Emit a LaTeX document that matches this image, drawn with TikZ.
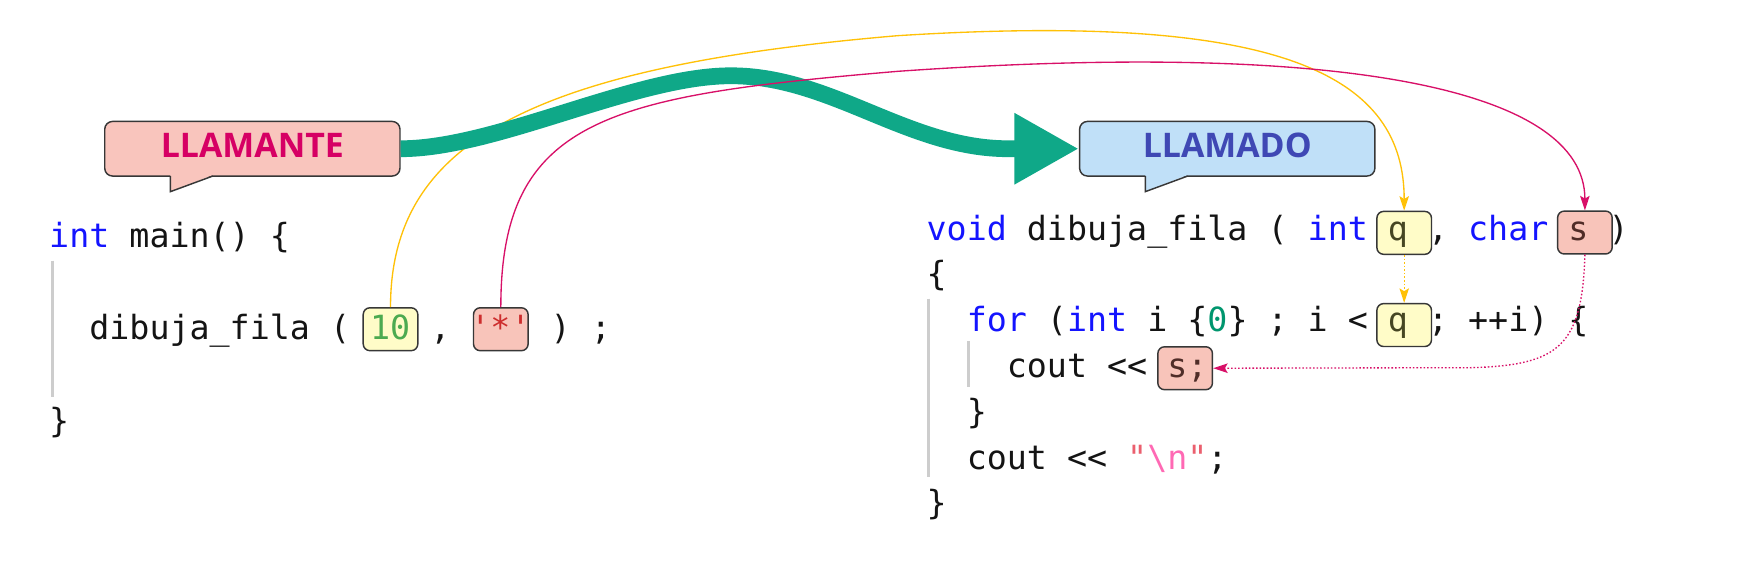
\documentclass[tikz,border=0pt]{standalone}
\usepackage{fontspec}
\setmonofont{DejaVu Sans Mono}
\newfontfamily\calloutfont{Open Sans}
\usetikzlibrary{arrows.meta}
\definecolor{kwblue}{RGB}{20,20,255}
\definecolor{txt}{RGB}{20,20,20}
\definecolor{numgreen}{RGB}{76,170,80}
\definecolor{zerog}{RGB}{0,150,110}
\definecolor{chred}{RGB}{205,45,45}
\definecolor{quotec}{RGB}{235,95,110}
\definecolor{escc}{RGB}{255,105,180}
\definecolor{qc}{RGB}{70,70,35}
\definecolor{sc}{RGB}{80,45,40}
\definecolor{boxyellow}{RGB}{255,252,200}
\definecolor{boxpink}{RGB}{248,196,186}
\definecolor{calpink}{RGB}{249,197,189}
\definecolor{calblue}{RGB}{192,224,248}
\definecolor{calred}{RGB}{214,0,100}
\definecolor{calindigo}{RGB}{63,72,180}
\definecolor{flowgreen}{RGB}{15,168,136}
\definecolor{lineyellow}{RGB}{255,193,7}
\definecolor{linemag}{RGB}{216,16,104}
\definecolor{bargray}{RGB}{205,205,205}
\definecolor{edgegray}{RGB}{55,55,55}
\newcommand{\kwd}[1]{\textcolor{kwblue}{#1}}
\begin{document}
\begin{tikzpicture}[x=1pt,y=-1pt,
  codeline/.style={anchor=base west, inner sep=0pt, font=\fontsize{29.9}{36}\selectfont\ttfamily, text=txt},
  argbox/.style={draw=edgegray, line width=1.3pt, rounded corners=6pt, minimum width=49pt, minimum height=38.5pt, inner sep=0pt},
  ybox/.style={argbox, fill=boxyellow},
  pbox/.style={argbox, fill=boxpink},
  bubble/.style={draw=edgegray, line width=1.3pt, rounded corners=7pt, minimum width=265pt, minimum height=49pt, inner sep=0pt},
  bubbletext/.style={anchor=base, inner sep=0pt, font=\calloutfont\bfseries\fontsize{30.4}{35}\selectfont},
  tailline/.style={draw=edgegray, line width=1.3pt, line join=miter},
  guide/.style={draw=bargray, line width=2.5pt},
  smallhead/.style={-{Stealth[length=13pt,width=8.5pt,inset=2.5pt]}},
  yline/.style={draw=lineyellow, line width=1.2pt, smallhead},
  mline/.style={draw=linemag, line width=1.2pt, smallhead},
  dotline/.style={dash pattern=on 1.4pt off 1.8pt},
  callarrow/.style={draw=flowgreen, line width=15pt, -{Triangle[length=58pt,width=60pt]}}
]
\useasboundingbox[fill=white] (0,0) rectangle (1568,513.4);

% callouts
\node[bubble, fill=calpink] (llamante) at (226.5,133.5) {};
\fill[calpink] (153,156.5) -- (153,172) -- (192.5,156.5) -- cycle;
\draw[tailline] (153,158) -- (153,172) -- (191,158);
\node[bubbletext, text=calred] (t1) at (226.5,141.2) {LLAMANTE};

\node[bubble, fill=calblue] (llamado) at (1101.5,133.5) {};
\fill[calblue] (1028,156.5) -- (1028,172) -- (1067.5,156.5) -- cycle;
\draw[tailline] (1028,158) -- (1028,172) -- (1066,158);
\node[bubbletext, text=calindigo] (t2) at (1101.5,141.2) {LLAMADO};

% indentation guides
\draw[guide] (47,234) -- (47,356);
\draw[guide] (833.3,268) -- (833.3,428);
\draw[guide] (869,306.5) -- (869,347.6);

% argument boxes
\node[ybox] (b10) at (350.5,295.5) {};
\node[pbox] (bstar) at (449.5,295.5) {};
\node[ybox] (q1) at (1260.3,209) {};
\node[pbox] (s1) at (1422.5,208.7) {};
\node[ybox] (q3) at (1260.3,291.75) {};
\node[pbox] (s2) at (1063.7,330.5) {};

% left code
\node[codeline] (l1) at (44,222.5) {\kwd{int} main() \{};
\node[codeline] (l2) at (80,305) {dibuja\_fila ( \textcolor{numgreen}{10} , \textcolor{chred}{'*'} ) ;};
\node[codeline] (l3) at (44,388.4) {\}};

% right code
\node[codeline] (r1) at (831.5,215.5) {\kwd{void} dibuja\_fila ( \kwd{int} \textcolor{qc}{q} , \kwd{char} \textcolor{sc}{s} )};
\node[codeline] (r2) at (831.5,256.6) {\{};
\node[codeline] (r3) at (867.5,297.7) {\kwd{for} (\kwd{int} i \{\textcolor{zerog}{0}\} ; i < \textcolor{qc}{q} ; ++i) \{};
\node[codeline] (r4) at (903.5,338.8) {cout << \textcolor{sc}{s;}};
\node[codeline] (r5) at (867.5,380) {\}};
\node[codeline] (r6) at (867.5,421) {cout << \textcolor{quotec}{"}\textcolor{escc}{\textbackslash n}\textcolor{quotec}{"};};
\node[codeline] (r7) at (831.5,462) {\}};

% connectors
\draw[yline] (b10.north) .. controls (350.5,128) and (476,60) .. (806,32) .. controls (1156,10) and (1260.3,70) .. (q1.north);
\draw[yline, dotline] (q1.south) -- (q3.north);
\draw[callarrow] (llamante.east) .. controls (445,133.5) and (570,68) .. (656,68) .. controls (746,68) and (815,133.5) .. (905,133.5) -- (llamado.west);
\draw[mline] (bstar.north) .. controls (449.5,106) and (546,86) .. (806,64) .. controls (1206,36) and (1422.5,80) .. (s1.north);
\draw[mline, dotline] (s1.south) .. controls (1420,310) and (1400,328) .. (1320,330) -- (s2.east);
\end{tikzpicture}
\end{document}
